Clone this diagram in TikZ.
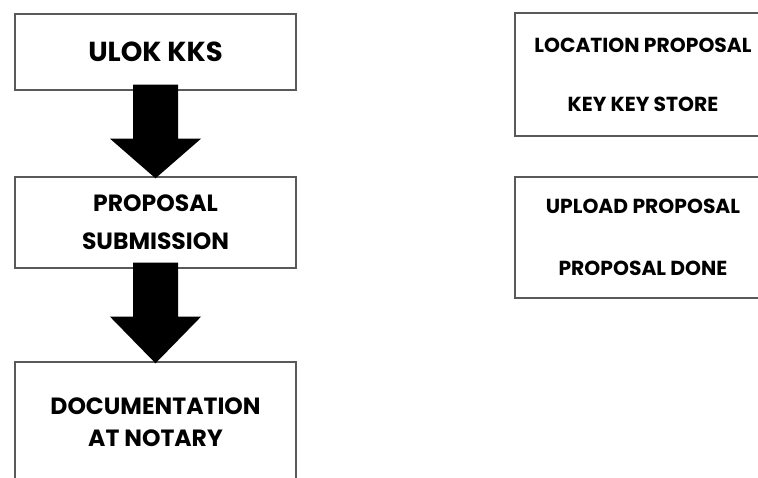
\documentclass[tikz,border=0pt]{standalone}
\usepackage{fontspec}
\setmainfont{Poppins}
\usetikzlibrary{positioning,calc}
\tikzset{
	basic/.style = {draw=black!65, line width=1.4pt, rectangle, align=center, inner sep=0pt},
	stepbox/.style = {basic, minimum width=281pt},
	infobox/.style = {basic, minimum width=256pt},
	bigarrow/.style = {fill=black, draw=none}
}

\begin{document}
\begin{tikzpicture}[x=1pt,y=1pt]
	\useasboundingbox (0,0) rectangle (758,478);
	
	% left column, the steps
	\node[stepbox, minimum height=76pt, font=\bfseries\fontsize{27.5}{30}\selectfont] (ulok) at (155.5,426) {ULOK KKS};
	\node[stepbox, minimum height=91pt, font=\bfseries\fontsize{23.5}{38}\selectfont] (submit) at (155.5,255.5) {PROPOSAL\\SUBMISSION};
	\node[stepbox, minimum height=120pt, font=\bfseries\fontsize{23.5}{32}\selectfont] (notary) at (155.5,56) {DOCUMENTATION\\AT NOTARY};
	
	% right column, the notes
	\node[infobox, minimum height=123pt, font=\bfseries\fontsize{20.3}{59}\selectfont] (location) at (643,403.5) {LOCATION PROPOSAL\\KEY KEY STORE};
	\node[infobox, minimum height=121pt, font=\bfseries\fontsize{20.3}{62}\selectfont] (upload) at (643,240.5) {UPLOAD PROPOSAL\\PROPOSAL DONE};
	
	% block arrows between the steps
	\foreach \from/\to in {ulok/submit, submit/notary}
	\fill[bigarrow] ($(\from.south)+(-22.5,6)$) -- ($(\from.south)+(22.5,6)$)
		-- ($(\from.south)+(22.5,-48)$) -- ($(\from.south)+(45.5,-48)$)
		-- ($(\to.north)+(0,-2)$)
		-- ($(\from.south)+(-45.5,-48)$) -- ($(\from.south)+(-22.5,-48)$) -- cycle;
\end{tikzpicture}
\end{document}
